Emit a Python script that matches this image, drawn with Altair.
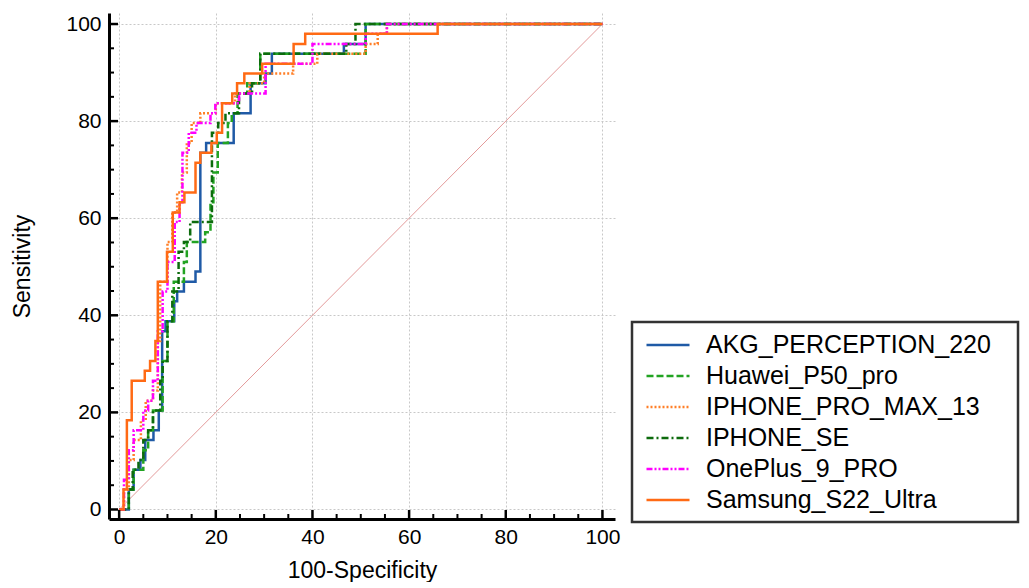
import altair as alt
import pandas as pd

# ---- data (step corner points, step-after) ----
names = ["AKG_PERCEPTION_220", "Huawei_P50_pro", "IPHONE_PRO_MAX_13",
         "IPHONE_SE", "OnePlus_9_PRO", "Samsung_S22_Ultra"]

akg_x = [0, 2, 3, 4.4, 5.4, 7.1, 8.2, 8.9, 9.6, 11.4, 12, 13.4, 15.8, 16.8, 18, 23.7, 27.2, 30.3, 31.6, 46.5, 51, 100]
akg_y = [0, 4.1, 8.2, 10.2, 14.3, 16.3, 20.4, 36.7, 38.8, 42.9, 44.9, 46.9, 49, 73.5, 75.5, 81.6, 87.8, 89.8, 93.9, 95.9, 100, 100]

huawei_x = [0, 2, 3, 5, 6, 7, 9, 10, 11.3, 13.4, 14, 17.8, 18.9, 19.5, 20.4, 22.5, 23.3, 24.5, 26.5, 29.2, 51, 100]
huawei_y = [0, 4.1, 8.2, 12.2, 16.3, 20.4, 30.6, 38.8, 46.9, 51, 55.1, 57.1, 63.3, 69.4, 75.5, 79.6, 81.6, 85.7, 87.8, 93.9, 100, 100]

promax_x = [0, 1, 2, 3, 4.5, 5.5, 7, 8, 8.5, 10, 11, 12, 13, 14, 15, 16.8, 20, 24, 27, 30, 36, 41, 51, 53.5, 55.4, 100]
promax_y = [0, 4.1, 10.2, 14.3, 18.4, 22.4, 24.5, 34.7, 46.9, 55.1, 61.2, 65.3, 69.4, 75.5, 79.6, 81.6, 83.7, 85.7, 87.8, 89.8, 91.8, 93.9, 95.9, 98, 100, 100]

se_x = [0, 2, 2.8, 4, 5, 6, 7, 8.5, 9, 10, 11, 12.3, 13.4, 14.7, 19.2, 20.5, 22, 24.8, 27.5, 29.2, 47, 48.9, 100]
se_y = [0, 4.1, 8.2, 10.2, 14.3, 16.3, 20.4, 26.5, 30.6, 38.8, 44.9, 53.1, 55.1, 59.2, 77.6, 79.6, 81.6, 85.7, 87.8, 93.9, 95.9, 100, 100]

oneplus_x = [0, 1, 2, 3, 5, 6, 7, 8, 9, 10, 11.5, 12.5, 13.1, 14.4, 16, 18.9, 19.9, 24.8, 30.3, 40, 51, 55.4, 100]
oneplus_y = [0, 6.1, 12.2, 16.3, 20.4, 22.4, 26.5, 36.7, 44.9, 51, 59.2, 63.3, 73.5, 77.6, 79.6, 81.6, 83.7, 85.7, 91.8, 95.9, 98, 100, 100]

samsung_x = [0, 0.9, 1.6, 2.6, 5.3, 6.4, 7.5, 8, 9.9, 11.1, 12.5, 13.5, 15.8, 16.8, 19.1, 20.2, 21.3, 23.4, 24.4, 25.9, 29.6, 36.1, 38.5, 65.9, 100]
samsung_y = [0, 4.1, 18.4, 26.5, 28.6, 30.6, 34.7, 46.9, 53.1, 61.2, 63.3, 65.3, 71.4, 73.5, 75.5, 77.6, 83.7, 85.7, 87.8, 89.8, 91.8, 95.9, 98, 100, 100]

diag_x = [0, 100]
diag_y = [0, 100]

major_ticks = [0, 20, 40, 60, 80, 100]
minor_ticks = [5, 10, 15, 25, 30, 35, 45, 50, 55, 65, 70, 75, 85, 90, 95]

colors = ["#1f5aa6", "#22a322", "#ff7f27", "#0d6b0d", "#ff00ff", "#ff6a14"]
dashes = [[1, 0], [7, 3], [2, 2], [7, 3, 2, 3], [6, 2, 2, 2, 2, 2], [1, 0]]

xs = [akg_x, huawei_x, promax_x, se_x, oneplus_x, samsung_x]
ys = [akg_y, huawei_y, promax_y, se_y, oneplus_y, samsung_y]

rows = []
for n, xx, yy in zip(names, xs, ys):
    for i, (a, b) in enumerate(zip(xx, yy)):
        rows.append({"device": n, "fpr": a, "tpr": b, "idx": i})
df = pd.DataFrame(rows)
diag_df = pd.DataFrame({"fpr": diag_x, "tpr": diag_y})
maj_df = pd.DataFrame({"fpr": major_ticks, "tpr": major_ticks})
min_df = pd.DataFrame({"fpr": minor_ticks, "tpr": minor_ticks})

W = 506
H = 506
FONT = "Liberation Sans"

# legend frame geometry (pixels relative to plot origin)
FX, FY, FW, FH = 523, 309, 386, 200
# legend entries origin
LX, LY = 523, 309

xscale = alt.Scale(domain=[-2.1, 102.6], nice=False, zero=False)
yscale = alt.Scale(domain=[-1.96, 102.27], nice=False, zero=False)

xaxis = alt.Axis(values=major_ticks, ticks=False, title="100-Specificity",
                 domainColor="black", domainWidth=3, grid=True,
                 gridColor="#c8c8c8", gridDash=[2, 2], gridWidth=1,
                 labelFont=FONT, labelFontSize=21, labelColor="black", labelPadding=7,
                 titleFont=FONT, titleFontSize=23, titleFontWeight="normal",
                 titleColor="black", titlePadding=12, labelFlush=False)
yaxis = alt.Axis(values=major_ticks, ticks=False, title="Sensitivity",
                 domainColor="black", domainWidth=3, grid=True,
                 gridColor="#c8c8c8", gridDash=[2, 2], gridWidth=1,
                 labelFont=FONT, labelFontSize=21, labelColor="black", labelPadding=8,
                 titleFont=FONT, titleFontSize=23, titleFontWeight="normal",
                 titleColor="black", titlePadding=31, labelFlush=False)

leg = alt.Legend(title=None, orient="none", legendX=LX, legendY=LY,
                 padding=7.6, symbolOffset=5.4, clipHeight=30.8,
                 labelFont=FONT, labelFontSize=25, labelColor="black",
                 symbolType="stroke", symbolSize=1849, symbolStrokeWidth=2.5,
                 rowPadding=0, labelOffset=15, labelLimit=600)

X = alt.X("fpr:Q", scale=xscale, axis=xaxis)
Y = alt.Y("tpr:Q", scale=yscale, axis=yaxis)

diag = alt.Chart(diag_df).mark_line(color="#e39a9a", strokeWidth=1).encode(x=X, y=Y)

lines = alt.Chart(df).mark_line(interpolate="step-after", strokeWidth=2.5).encode(
    x=X, y=Y,
    color=alt.Color("device:N", scale=alt.Scale(domain=names, range=colors), legend=leg),
    strokeDash=alt.StrokeDash("device:N", scale=alt.Scale(domain=names, range=dashes), legend=leg),
    order=alt.Order("idx:Q"),
)

xmaj = alt.Chart(maj_df).mark_rule(color="black", strokeWidth=2.5).encode(
    x=X, y=alt.value(H), y2=alt.value(H - 9))
xmin = alt.Chart(min_df).mark_rule(color="black", strokeWidth=2).encode(
    x=X, y=alt.value(H), y2=alt.value(H - 5))
ymaj = alt.Chart(maj_df).mark_rule(color="black", strokeWidth=2.5).encode(
    y=Y, x=alt.value(0), x2=alt.value(9))
ymin = alt.Chart(min_df).mark_rule(color="black", strokeWidth=2).encode(
    y=Y, x=alt.value(0), x2=alt.value(5))

frame = alt.Chart(diag_df.head(1)).mark_rect(
    fill=None, fillOpacity=0, stroke="#333333", strokeWidth=2.5, clip=False
).encode(x=alt.value(FX), x2=alt.value(FX + FW), y=alt.value(FY), y2=alt.value(FY + FH))

chart = alt.layer(diag, lines, xmaj, xmin, ymaj, ymin, frame).properties(
    width=W, height=H,
    padding={"left": 3, "top": 5, "right": 0, "bottom": 0},
).configure_view(strokeWidth=0)

chart.save("out.html", embed_options={"renderer": "svg", "actions": False})
